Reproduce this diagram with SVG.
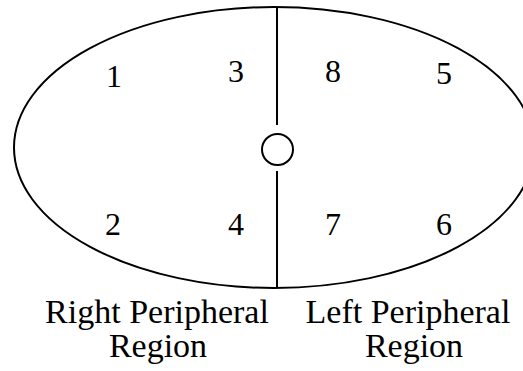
<svg xmlns="http://www.w3.org/2000/svg" width="523" height="371" viewBox="0 0 523 371">
<style>
.ln{fill:none;stroke:#000;stroke-width:2}
.t{font-family:"Liberation Serif","Times New Roman",serif;font-size:32px;fill:#000;text-anchor:middle}
.lb{font-size:34px}
</style>
<rect width="523" height="371" fill="#fff"/>
<g id="outline">
<ellipse class="ln" cx="274" cy="147.5" rx="260" ry="140.5"/>
</g>
<g id="connectors">
<line class="ln" x1="277" y1="7" x2="277" y2="125"/>
<line class="ln" x1="277" y1="171" x2="277" y2="288"/>
</g>
<g id="center">
<circle class="ln" cx="277.5" cy="149.5" r="15.5"/>
</g>
<g id="numbers">
<text class="t" x="114" y="87">1</text>
<text class="t" x="236" y="82">3</text>
<text class="t" x="333" y="82">8</text>
<text class="t" x="444" y="84">5</text>
<text class="t" x="113" y="235">2</text>
<text class="t" x="236" y="235">4</text>
<text class="t" x="333" y="235">7</text>
<text class="t" x="444" y="235">6</text>
</g>
<g id="labels">
<text class="t lb" x="157" y="323">Right Peripheral</text>
<text class="t lb" x="158" y="357">Region</text>
<text class="t lb" x="408" y="323">Left Peripheral</text>
<text class="t lb" x="414" y="357">Region</text>
</g>
</svg>
